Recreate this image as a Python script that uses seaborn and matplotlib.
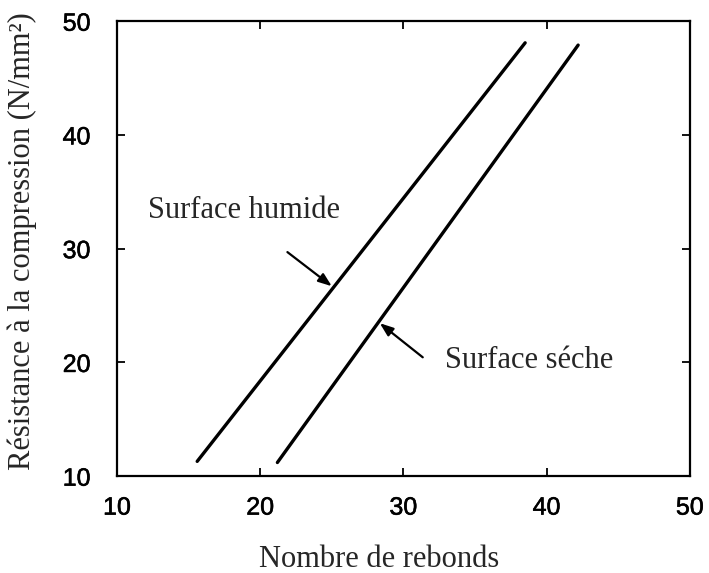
import matplotlib
matplotlib.use("Agg")
import matplotlib.pyplot as plt
import matplotlib.patheffects as pe
import seaborn as sns
import pandas as pd

# Data
nombre_humide = [15.6, 38.5]
resistance_humide = [11.3, 48.1]
nombre_seche = [21.2, 42.2]
resistance_seche = [11.2, 47.9]
surfaces = ["Surface humide", "Surface séche"]

x_ticks = [10, 20, 30, 40, 50]
y_ticks = [10, 20, 30, 40, 50]

df = pd.DataFrame({
    "Nombre de rebonds": nombre_humide + nombre_seche,
    "Résistance": resistance_humide + resistance_seche,
    "Surface": [surfaces[0]] * len(nombre_humide) + [surfaces[1]] * len(nombre_seche),
})

sns.set_style("ticks")
plt.rcParams["font.family"] = ["Liberation Sans", "DejaVu Sans"]

fig = plt.figure(figsize=(7.09, 5.73), dpi=100)
ax = fig.add_axes([0.165, 0.169, 0.808, 0.794])

sns.lineplot(data=df, x="Nombre de rebonds", y="Résistance", hue="Surface",
             palette=["black", "black"], linewidth=2.4, legend=False, ax=ax,
             estimator=None, sort=False)

ax.set_xlim(10, 50)
ax.set_ylim(10, 50)
ax.set_xticks(x_ticks)
ax.set_yticks(y_ticks)
ax.tick_params(direction="in", length=6, width=1.3, top=True, right=True,
               labelsize=18, colors="black")
ax.tick_params(axis="x", pad=14)
ax.tick_params(axis="y", pad=19)
for lab in ax.get_xticklabels() + ax.get_yticklabels():
    lab.set_path_effects([pe.withStroke(linewidth=0.4, foreground="black")])
for sp in ax.spines.values():
    sp.set_linewidth(1.6)
    sp.set_color("black")

serif = ["Liberation Serif", "DejaVu Serif"]
ax.set_xlabel("Nombre de rebonds", fontsize=22, family=serif)
ax.xaxis.set_label_coords(0.457, -0.151)
ax.set_ylabel("Résistance à la compression (N/mm²)", fontsize=22, family=serif)
ax.yaxis.set_label_coords(-0.140, 0.516)

ax.text(12.15, 33.4, surfaces[0], fontsize=22, family=serif, va="center", ha="left")
ax.text(32.9, 20.2, surfaces[1], fontsize=22, family=serif, va="center", ha="left")

arrow = dict(arrowstyle="-|>,head_length=0.8,head_width=0.3", color="black", lw=1.6,
             shrinkA=0, shrinkB=0)
ax.annotate("", xy=(25.0, 26.7), xytext=(21.9, 29.7), arrowprops=arrow)
ax.annotate("", xy=(28.35, 23.45), xytext=(31.35, 20.45), arrowprops=arrow)

fig.savefig("out.png", dpi=100)
